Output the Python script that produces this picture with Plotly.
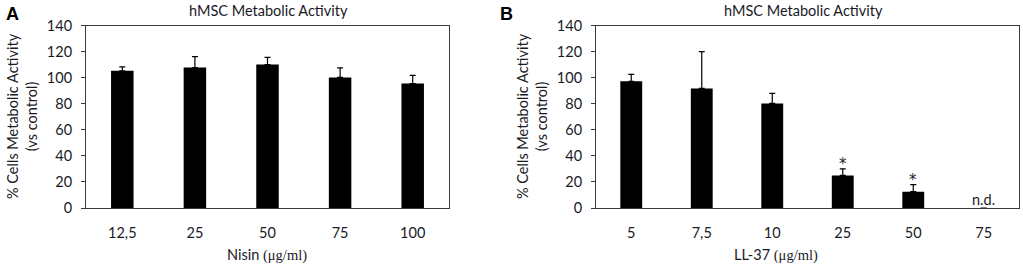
import plotly.graph_objects as go

# Panel A data
nisin_cats = ["12,5", "25", "50", "75", "100"]
nisin_vals = [105.2, 107.7, 110.0, 100.2, 95.5]
nisin_err = [3.0, 8.5, 5.5, 7.3, 6.2]

# Panel B data
ll37_cats = ["5", "7,5", "10", "25", "50", "75"]
ll37_vals = [97.2, 91.7, 80.2, 25.0, 12.5, None]
ll37_err = [5.3, 28.3, 7.8, 5.0, 5.5, None]
ll37_marks = ["", "", "", "*", "*", "n.d."]

TXT = "#1a1a26"
FONT = "Lato"
W, H = 1023, 266

fig = go.Figure()

fig.add_trace(go.Bar(
    x=nisin_cats, y=nisin_vals, width=0.31, marker=dict(color="black", line=dict(width=0)),
    error_y=dict(type="data", array=nisin_err, arrayminus=[0] * len(nisin_err),
                 symmetric=False, color="black", thickness=1.2, width=3),
    xaxis="x", yaxis="y", showlegend=False))

fig.add_trace(go.Bar(
    x=ll37_cats, y=[v if v is not None else 0 for v in ll37_vals], width=0.31,
    marker=dict(color="black", line=dict(width=0)),
    error_y=dict(type="data", array=[e if e is not None else 0 for e in ll37_err],
                 arrayminus=[0] * len(ll37_err), symmetric=False, color="black",
                 thickness=1.2, width=3),
    xaxis="x2", yaxis="y2", showlegend=False))

def px_x(p):
    return p / W

def px_y(p):
    return 1 - p / H

ydom = [px_y(208), px_y(25.5)]
ax_common = dict(showgrid=False, zeroline=False, showline=True, linecolor="#3a3a3a",
                 linewidth=1, mirror=True, automargin=False,
                 tickfont=dict(family=FONT, size=14.5, color=TXT))
yax = dict(ax_common, range=[0, 140], dtick=20, ticks="outside", ticklen=4,
           tickcolor="#3a3a3a", ticklabelstandoff=6)
xax = dict(ax_common, type="category", ticks="", ticklabelstandoff=12)

fig.update_layout(
    width=W, height=H, margin=dict(l=0, r=0, t=0, b=0, pad=0),
    paper_bgcolor="white", plot_bgcolor="white",
    xaxis=dict(xax, domain=[px_x(86), px_x(449)], anchor="y",
               range=[-0.5, len(nisin_cats) - 0.5]),
    yaxis=dict(yax, domain=ydom, anchor="x"),
    xaxis2=dict(xax, domain=[px_x(596), px_x(1019)], anchor="y2",
                range=[-0.5, len(ll37_cats) - 0.5]),
    yaxis2=dict(yax, domain=ydom, anchor="x2"),
)

ann = []

def paper_ann(x, y, text, size=14, bold=False, angle=0, family=FONT, xanchor="center"):
    ann.append(dict(x=px_x(x), y=px_y(y), xref="paper", yref="paper", text=text,
                    showarrow=False, textangle=angle, xanchor=xanchor, yanchor="middle",
                    font=dict(family=family, size=size, color=TXT if not bold else "black")))

# Panel letters
paper_ann(12, 14, "<b>A</b>", size=18, bold=True, family="Liberation Sans")
paper_ann(506, 14, "<b>B</b>", size=18, bold=True, family="Liberation Sans")
# Titles
paper_ann(268, 10, "hMSC Metabolic Activity", size=14.5)
paper_ann(803, 10, "hMSC Metabolic Activity", size=14.5)
# Y titles
for x0 in (22, 532):
    paper_ann(x0, 116, "% Cells Metabolic Activity<br>(vs control)", size=14.5, angle=-90)
# X titles
mu = '<span style="font-family:Liberation Serif">(\u03bcg/ml)</span>'
paper_ann(267, 255, "Nisin " + mu, size=14.5)
paper_ann(776, 255, "LL-37 " + mu, size=14.5)

# Significance marks and n.d. (x given as category index)
for i, (v, e, m) in enumerate(zip(ll37_vals, ll37_err, ll37_marks)):
    if not m:
        continue
    top = (v or 0) + (e or 0)
    star = m == "*"
    ann.append(dict(x=i, y=top, xref="x2", yref="y2", text=m, showarrow=False,
                    yanchor="bottom", yshift=-6 if star else -2,
                    font=dict(family="DejaVu Sans" if star else FONT,
                              size=15 if star else 14.5, color=TXT)))

fig.update_layout(annotations=ann)
fig.write_html("out.html", config={"displayModeBar": False},
               post_script="document.body.style.margin='0';document.body.style.overflow='hidden';")
